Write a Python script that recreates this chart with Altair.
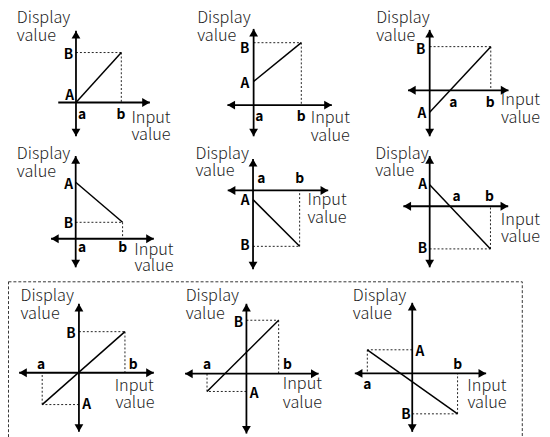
import altair as alt
import pandas as pd

# ---- panel geometry (page pixel units) ----
AX_X = [77, 257.3, 436, 76.7, 256.7, 436, 80, 250, 418.3]          # vertical axis position
AX_Y = [100.7, 103.3, 88.3, 239, 190, 206, 375, 376, 375.7]        # horizontal axis position
V_TOP = [28, 26, 27, 155, 158, 155, 305, 305, 304]
V_BOTTOM = [135, 135, 135, 268, 270, 268, 435, 436.7, 435]
H_LEFT = [59, 230.7, 414, 51.7, 231, 409.3, 19.3, 187.7, 360]
H_RIGHT = [152, 336.7, 516, 156, 333, 515.7, 156, 323.3, 493.3]
LEFT_ARROW = [False, True, True, True, True, True, True, True, True]

# characteristic line endpoints
LX1 = [77, 257.3, 436, 76.7, 256.7, 436, 42.7, 210, 372.7]
LY1 = [100.7, 79.3, 110.7, 181.7, 199.3, 184.3, 407.3, 394, 351.7]
LX2 = [123, 305.7, 498, 124.3, 304, 497.7, 126.7, 282.7, 464.3]
LY2 = [50, 40, 44, 222.3, 246.7, 249.3, 333.3, 321.7, 416.7]

# bold point labels
LABEL_TEXT = ["B", "A", "a", "b",
              "B", "A", "a", "b",
              "B", "A", "a", "b",
              "A", "B", "a", "b",
              "a", "b", "A", "B",
              "A", "a", "b", "B",
              "B", "a", "b", "A",
              "B", "a", "b", "A",
              "A", "b", "a", "B"]
LABEL_X = [74, 75, 79, 122.7,
           253, 253, 259, 305.7,
           431.7, 432.7, 460, 497.3,
           74, 74, 79, 124.3,
           261, 304, 253.3, 253.3,
           433.3, 463.3, 496.7, 433.3,
           76.7, 41.7, 135, 83.3,
           246.7, 210, 291.7, 253.3,
           421.7, 464.3, 372.7, 416.7]
LABEL_Y = [56.7, 98, 117.3, 117.3,
           50, 86, 119.3, 119.3,
           51.7, 116.7, 105, 105,
           188.3, 228.3, 252.3, 252.3,
           182.7, 182.7, 205, 250.7,
           188.3, 200.7, 200.7, 253.3,
           339.3, 371.7, 371.7, 411.7,
           328.3, 370.7, 370.7, 400.7,
           358.3, 371.7, 391, 421.7]
LABEL_ALIGN = ["right", "right", "left", "center",
               "right", "right", "left", "center",
               "right", "right", "center", "center",
               "right", "right", "left", "center",
               "left", "center", "right", "right",
               "right", "center", "center", "right",
               "right", "center", "center", "left",
               "right", "center", "center", "left",
               "left", "center", "center", "right"]

# vertical-axis captions (left aligned)
YCAP_TEXT = ["Display", "value"] * 9
YCAP_X = [17, 17, 200, 200, 381.7, 381.7,
          17, 17, 198.3, 198.3, 380.7, 380.7,
          20.7, 20.7, 188.3, 188.3, 358, 358]
YCAP_Y = [20, 38, 20, 38, 20.5, 38,
          158.3, 176, 158.3, 175, 158.3, 175,
          301.7, 320, 301.7, 320, 301.7, 320]

# horizontal-axis captions (right aligned)
XCAP_TEXT = ["Input", "value"] * 9
XCAP_X = [173, 173, 355, 355, 548, 548,
          176, 176, 351.7, 351.7, 548, 548,
          156, 156.7, 326.7, 326.7, 514, 514]
XCAP_Y = [121.7, 138.3, 121.7, 140, 103.3, 121.7,
          255, 271.7, 205, 223.3, 225, 242.3,
          393.3, 410.7, 391.7, 410.7, 393.3, 410.7]

# dashed frame around the bottom row
BOX_X = [8.5, 530]
BOX_Y = [282.7, 470]

FONT = "Noto Sans CJK JP"

# ---- build tables ----
axes = []
arrows = []
H = 3.9
for i in range(9):
    axes.append(dict(x=AX_X[i], y=V_TOP[i], x2=AX_X[i], y2=V_BOTTOM[i]))
    axes.append(dict(x=H_LEFT[i], y=AX_Y[i], x2=H_RIGHT[i], y2=AX_Y[i]))
    arrows.append(dict(x=AX_X[i], y=V_TOP[i] + H, shape="triangle-up"))
    arrows.append(dict(x=AX_X[i], y=V_BOTTOM[i] - H, shape="triangle-down"))
    arrows.append(dict(x=H_RIGHT[i] - H, y=AX_Y[i], shape="triangle-right"))
    if LEFT_ARROW[i]:
        arrows.append(dict(x=H_LEFT[i] + H, y=AX_Y[i], shape="triangle-left"))

lines = [dict(x=LX1[i], y=LY1[i], x2=LX2[i], y2=LY2[i]) for i in range(9)]

dashes = []
for i in range(9):
    for px, py in [(LX1[i], LY1[i]), (LX2[i], LY2[i])]:
        if px != AX_X[i] and py != AX_Y[i]:
            dashes.append(dict(x=AX_X[i], y=py, x2=px, y2=py))
            dashes.append(dict(x=px, y=py, x2=px, y2=AX_Y[i]))

labels = pd.DataFrame(dict(t=LABEL_TEXT, x=LABEL_X, y=LABEL_Y, align=LABEL_ALIGN))
ycaps = pd.DataFrame(dict(t=YCAP_TEXT, x=YCAP_X, y=YCAP_Y))
xcaps = pd.DataFrame(dict(t=XCAP_TEXT, x=XCAP_X, y=XCAP_Y))
box = pd.DataFrame([dict(x=BOX_X[0], x2=BOX_X[1], y=BOX_Y[0], y2=BOX_Y[1])])

xs = alt.Scale(domain=[8, 550], nice=False, zero=False)
ys = alt.Scale(domain=[8, 437], reverse=True, nice=False, zero=False)
X = alt.X("x:Q", scale=xs, axis=None)
Y = alt.Y("y:Q", scale=ys, axis=None)

box_layer = alt.Chart(box).mark_rect(
    fill="white", fillOpacity=0, stroke="#333", strokeWidth=1, strokeDash=[3, 2]
).encode(x=X, x2="x2:Q", y=Y, y2="y2:Q")

dash_layer = alt.Chart(pd.DataFrame(dashes)).mark_rule(
    color="#222", strokeWidth=1, strokeDash=[2, 2]
).encode(x=X, x2="x2:Q", y=Y, y2="y2:Q")

axis_layer = alt.Chart(pd.DataFrame(axes)).mark_rule(
    color="#000", strokeWidth=1.8
).encode(x=X, x2="x2:Q", y=Y, y2="y2:Q")

line_layer = alt.Chart(pd.DataFrame(lines)).mark_rule(
    color="#000", strokeWidth=1.5
).encode(x=X, x2="x2:Q", y=Y, y2="y2:Q")

arrow_layer = alt.Chart(pd.DataFrame(arrows)).mark_point(
    filled=True, color="#000", size=80, opacity=1
).encode(x=X, y=Y, shape=alt.Shape("shape:N", scale=None, legend=None))

label_layers = []
for al in ["left", "center", "right"]:
    label_layers.append(
        alt.Chart(labels).transform_filter(alt.datum.align == al).mark_text(
            font=FONT, fontSize=14, fontWeight="bold", color="#000",
            align=al, baseline="alphabetic"
        ).encode(x=X, y=Y, text="t:N")
    )

ycap_layer = alt.Chart(ycaps).mark_text(
    font=FONT, fontSize=16.5, fontWeight=300, color="#222", align="left", baseline="alphabetic"
).encode(x=X, y=Y, text="t:N")

xcap_layer = alt.Chart(xcaps).mark_text(
    font=FONT, fontSize=16.5, fontWeight=300, color="#222", align="right", baseline="alphabetic"
).encode(x=X, y=Y, text="t:N")

chart = alt.layer(
    box_layer, dash_layer, axis_layer, line_layer, arrow_layer,
    ycap_layer, xcap_layer, *label_layers
).properties(
    width=542, height=429, padding=0, autosize=alt.AutoSizeParams(type="none")
).configure_view(stroke=None)

chart.save("out.html", embed_options={"renderer": "svg", "actions": False})
